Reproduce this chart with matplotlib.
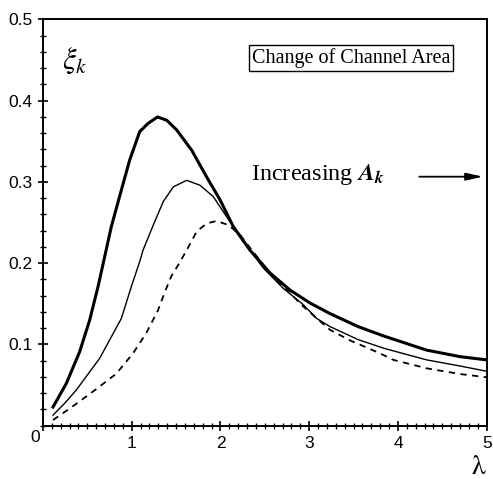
import matplotlib
matplotlib.use("Agg")
import matplotlib.pyplot as plt
from matplotlib.ticker import MultipleLocator

plt.rcParams['mathtext.fontset'] = 'stix'

## data ############################
# thick solid curve
x_thick = [0.113, 0.263, 0.413, 0.526, 0.620, 0.695, 0.770, 0.883, 0.977, 1.09, 1.183, 1.29,
           1.394, 1.507, 1.676, 1.845, 1.995, 2.145, 2.333, 2.558, 2.783, 3.009, 3.234, 3.55,
           3.85, 4.324, 4.699, 5.0]
y_thick = [0.023, 0.052, 0.091, 0.130, 0.171, 0.208, 0.245, 0.290, 0.327, 0.362, 0.372, 0.380,
           0.376, 0.364, 0.339, 0.306, 0.278, 0.245, 0.216, 0.188, 0.167, 0.151, 0.138, 0.122,
           0.110, 0.093, 0.085, 0.081]

# thin solid curve
x_thin = [0.113, 0.244, 0.376, 0.639, 0.883, 0.995, 1.093, 1.127, 1.243, 1.356, 1.469, 1.619,
          1.769, 1.919, 2.07, 2.22, 2.483, 2.708, 2.933, 3.084, 3.234, 3.55, 3.85, 4.324,
          4.699, 5.0]
y_thin = [0.013, 0.0275, 0.044, 0.083, 0.132, 0.171, 0.203, 0.216, 0.247, 0.276, 0.294, 0.302,
          0.296, 0.282, 0.257, 0.233, 0.194, 0.169, 0.149, 0.132, 0.122, 0.106, 0.095, 0.081,
          0.0735, 0.067]

# dashed curve
x_dash = [0.113, 0.30, 0.563, 0.826, 1.014, 1.164, 1.296, 1.371, 1.446, 1.525, 1.619, 1.732,
          1.845, 1.957, 2.088, 2.22, 2.539, 2.93, 3.234, 3.46, 3.798, 3.948, 4.324, 4.699, 5.0]
y_dash = [0.007, 0.021, 0.042, 0.064, 0.089, 0.114, 0.142, 0.164, 0.184, 0.198, 0.216, 0.239,
          0.249, 0.252, 0.247, 0.235, 0.190, 0.147, 0.118, 0.105, 0.089, 0.081, 0.0706, 0.0636,
          0.0596]

x_ticks = [0, 1, 2, 3, 4, 5]
x_ticklabels = ['', '1', '2', '3', '4', '5']
y_ticks = [0.1, 0.2, 0.3, 0.4, 0.5]
y_ticklabels = ['0.1', '0.2', '0.3', '0.4', '0.5']

## plot ##########
fig = plt.figure(figsize=(4.93, 4.79), dpi=100)
ax = fig.add_axes([0.0872, 0.1113, 0.9000, 0.8480])

ax.plot(x_thick, y_thick, color='black', lw=2.2, solid_joinstyle='round')
ax.plot(x_thin, y_thin, color='black', lw=1.0, solid_joinstyle='round')
ax.plot(x_dash, y_dash, color='black', lw=1.3, dashes=(3.5, 3))

ax.set_xlim(0, 5)
ax.set_ylim(0, 0.5)

ax.set_xticks(x_ticks)
ax.set_xticklabels(x_ticklabels)
ax.set_yticks(y_ticks)
ax.set_yticklabels(y_ticklabels)
ax.xaxis.set_minor_locator(MultipleLocator(0.1))
ax.yaxis.set_minor_locator(MultipleLocator(0.02))
ax.tick_params(which='major', direction='inout', length=7, width=1.2,
               labelsize=12.5, pad=4)
ax.tick_params(which='minor', direction='inout', length=4, width=1.0)
for lab in ax.get_xticklabels() + ax.get_yticklabels():
    lab.set_fontfamily('Liberation Sans')

for s in ax.spines.values():
    s.set_linewidth(1.4)

# the lone "0" at the corner
ax.text(-0.006, -0.030, '0', transform=ax.transAxes, ha='right', va='center',
        fontsize=12.5, family='Liberation Sans')

ax.text(0.042, 0.897, r'$\xi_k$', transform=ax.transAxes, ha='left', va='center',
        fontsize=22)
ax.text(0.983, -0.10, r'$\mathrm{\lambda}$', transform=ax.transAxes, ha='center',
        va='center', fontsize=20)

ax.text(0.694, 0.905, 'Change of Channel Area', transform=ax.transAxes,
        ha='center', va='center', fontsize=14.5, family='Liberation Serif',
        bbox=dict(boxstyle='square,pad=0.15', fc='white', ec='black', lw=1.0))

ax.text(0.469, 0.618, r'Increasing $\mathbfit{A}_{\mathbfit{k}}$', transform=ax.transAxes,
        ha='left', va='center', fontsize=17.5, family='Liberation Serif')
ax.annotate('', xy=(0.992, 0.613), xytext=(0.848, 0.613), xycoords='axes fraction',
            arrowprops=dict(arrowstyle='-|>,head_length=1.0,head_width=0.22',
                            color='black', lw=1.3, shrinkA=0, shrinkB=0))

fig.savefig('out.png', dpi=100)
